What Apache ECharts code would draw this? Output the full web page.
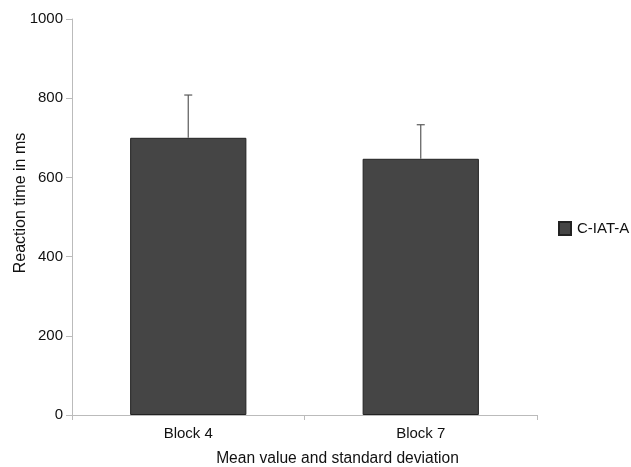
<!DOCTYPE html>
<html>
<head>
<meta charset="utf-8">
<script src="https://cdn.jsdelivr.net/npm/echarts@6/dist/echarts.min.js"></script>
<style>html,body{margin:0;padding:0;background:#fff}#c{width:631px;height:467px}</style>
</head>
<body>
<div id="c"></div>
<script>
var categories = ['Block 4', 'Block 7'];
var meanValues = [700, 647];
var sdValues = [108, 86];
var seriesName = 'C-IAT-A';

var chart = echarts.init(document.getElementById('c'), null, {renderer: 'canvas'});
var font = 'Liberation Sans, Arial, Helvetica, sans-serif';
var errData = categories.map(function (c, i) { return [i, meanValues[i], meanValues[i] + sdValues[i]]; });
chart.setOption({
  animation: false,
  backgroundColor: '#fff',
  textStyle: {fontFamily: font},
  grid: {left: 72, right: 94, top: 19, bottom: 52, containLabel: false, outerBoundsMode: 'none'},
  legend: {
    data: [{name: seriesName, icon: 'rect'}], orient: 'vertical', left: 558, top: 221, padding: 0,
    itemWidth: 12, itemHeight: 13, itemGap: 5,
    textStyle: {fontFamily: font, fontSize: 15, color: '#111', padding: [0, 0, 0, 1]}
  },
  xAxis: {
    type: 'category', data: categories,
    name: 'Mean value and standard deviation', nameLocation: 'middle', nameGap: 36,
    nameMoveOverlap: false,
    nameTextStyle: {fontFamily: font, fontSize: 15.6, color: '#111', padding: [0, 0, 0, 66]},
    axisLine: {lineStyle: {color: '#bbb'}},
    axisTick: {show: true, length: 5, lineStyle: {color: '#bbb'}},
    axisLabel: {fontFamily: font, fontSize: 15, color: '#111', margin: 11}
  },
  yAxis: {
    type: 'value', min: 0, max: 1000, interval: 200,
    name: 'Reaction time in ms', nameLocation: 'middle', nameGap: 43, nameRotate: 90,
    nameMoveOverlap: false,
    nameTextStyle: {fontFamily: font, fontSize: 16, color: '#111', padding: [0, 0, 0, 28]},
    axisLine: {show: true, lineStyle: {color: '#bbb'}},
    axisTick: {show: true, length: 6, lineStyle: {color: '#bbb'}},
    axisLabel: {fontFamily: font, fontSize: 15, color: '#111', margin: 9,
      formatter: function (v) { return String(v); }},
    splitLine: {show: false}
  },
  series: [
    {
      name: seriesName, type: 'bar', data: meanValues, barWidth: '50%',
      itemStyle: {color: '#454545', borderColor: '#222', borderWidth: 1}, z: 2
    },
    {
      type: 'custom', data: errData, z: 3, silent: true,
      renderItem: function (params, api) {
        var x = api.value(0);
        var lo = api.coord([x, api.value(1)]);
        var hi = api.coord([x, api.value(2)]);
        var st = {stroke: '#5a5a5a', lineWidth: 1.2};
        return {type: 'group', children: [
          {type: 'line', shape: {x1: lo[0], y1: lo[1], x2: hi[0], y2: hi[1]}, style: st},
          {type: 'line', shape: {x1: hi[0] - 4, y1: hi[1], x2: hi[0] + 4, y2: hi[1]}, style: st}
        ]};
      }
    }
  ]
});
</script>
</body>
</html>
